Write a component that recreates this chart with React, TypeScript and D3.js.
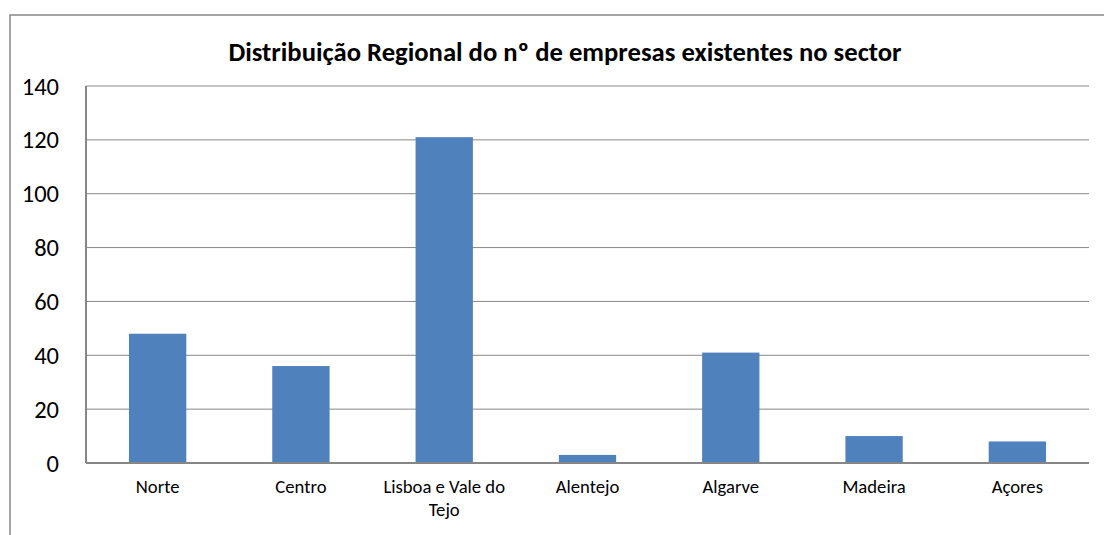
import { scaleBand, scaleLinear } from "d3";

const regions = [
  "Norte",
  "Centro",
  "Lisboa e Vale do Tejo",
  "Alentejo",
  "Algarve",
  "Madeira",
  "Açores",
];
const companies = [48, 36, 121, 3, 41, 10, 8];
const yTicks = [0, 20, 40, 60, 80, 100, 120, 140];
const title = "Distribuição Regional do nº de empresas existentes no sector";

// label lines for the wrapped category names
const labelLines: Record<string, string[]> = {
  "Lisboa e Vale do Tejo": ["Lisboa e Vale do", "Tejo"],
};

const W = 1104;
const H = 535;
const margin = { top: 86, right: 15, bottom: 72, left: 86 };
const font = "Carlito, 'Open Sans', sans-serif";

export default function App() {
  const x = scaleBand<string>()
    .domain(regions)
    .range([margin.left, W - margin.right])
    .padding(0);
  const y = scaleLinear()
    .domain([0, 140])
    .range([H - margin.bottom, margin.top]);

  const barW = x.bandwidth() * 0.4;

  return (
    <svg
      width={W}
      height={H}
      style={{ position: "absolute", left: 0, top: 0, background: "#fff" }}
      fontFamily={font}
    >
      {/* outer chart border, runs off the right edge */}
      <rect x={10} y={15} width={1200} height={600} fill="none" stroke="#888" strokeWidth={1.5} />

      <text x={565} y={61} textAnchor="middle" fontSize={26.67} fontWeight="bold" fill="#000">
        {title}
      </text>

      {/* grid lines */}
      {yTicks
        .filter((t) => t > 0)
        .map((t) => (
          <line
            key={t}
            x1={margin.left}
            x2={W - margin.right}
            y1={y(t)}
            y2={y(t)}
            stroke="#888"
            strokeWidth={1}
          />
        ))}

      {/* bars */}
      {regions.map((r, i) => (
        <rect
          key={r}
          x={x(r)! + x.bandwidth() / 2 - barW / 2}
          y={y(companies[i])}
          width={barW}
          height={y(0) - y(companies[i])}
          fill="#4F81BD"
        />
      ))}

      {/* axes */}
      <line x1={margin.left} x2={margin.left} y1={y(140)} y2={y(0)} stroke="#868686" strokeWidth={2} />
      <line x1={margin.left} x2={W - margin.right} y1={y(0)} y2={y(0)} stroke="#868686" strokeWidth={2} />

      {/* y tick labels */}
      {yTicks.map((t) => (
        <text key={t} x={59} y={y(t)} dy="0.35em" textAnchor="end" fontSize={24.5} fill="#000">
          {t}
        </text>
      ))}

      {/* x labels */}
      {regions.map((r) => (
        <text key={r} x={x(r)! + x.bandwidth() / 2} y={493} textAnchor="middle" fontSize={18.67} fill="#000">
          {(labelLines[r] ?? [r]).map((line, j) => (
            <tspan key={j} x={x(r)! + x.bandwidth() / 2} dy={j === 0 ? 0 : 22.5}>
              {line}
            </tspan>
          ))}
        </text>
      ))}
    </svg>
  );
}
